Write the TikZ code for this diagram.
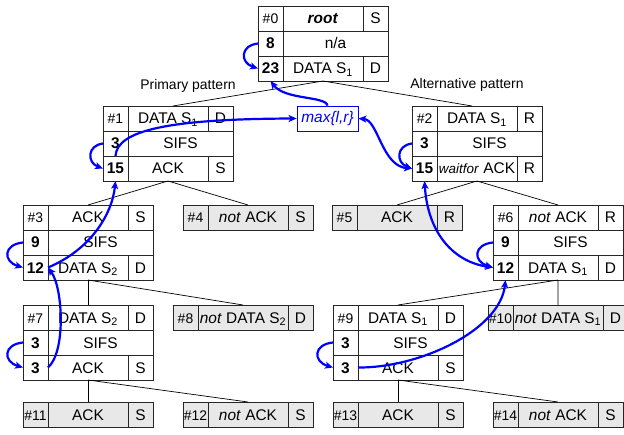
\documentclass[tikz,border=0pt]{standalone}
\usepackage{fontspec}
\setmainfont{Liberation Sans}
\usetikzlibrary{arrows.meta}
\newcommand\myid{\fontsize{14}{16}\selectfont}
\newcommand\mynum{\bfseries}
\newcommand\rowA[7]{%
  \node[sidecell,#7,anchor=north west] (#1a) at (#2) {#3};
  \node[#6,#7,anchor=north west] (#1b) at (#1a.north east) {#4};
  \node[sidecell,#7,anchor=north west] (#1c) at (#1b.north east) {#5};
}
\newcommand\rowB[4]{%
  \node[sidecell,anchor=north west] (#1a) at (#2) {#3};
  \node[spancell,anchor=north west] (#1b) at (#1a.north east) {#4};
}
\tikzset{
  cell/.style={draw=black!85, line width=0.8bp, rectangle, inner sep=0pt, outer sep=0pt,
    minimum height=25bp, font=\fontsize{15.5}{18}\selectfont, text height=12.5bp, text depth=1.5bp},
  sidecell/.style={cell, minimum width=25bp},
  midcell/.style={cell, minimum width=80bp},
  widemidcell/.style={cell, minimum width=90bp},
  spancell/.style={cell, minimum width=105bp},
  grey/.style={fill=black!9},
  plain/.style={},
  tree/.style={draw=black, line width=0.7bp},
  bluetip/.tip={Stealth[length=8bp,width=7bp,inset=2bp]},
  flow/.style={draw=blue, line width=2.2bp, -bluetip},
  flow2/.style={draw=blue, line width=2.2bp, bluetip-bluetip},
  lbl/.style={font=\fontsize{14}{16}\selectfont, inner sep=0pt, anchor=base},
  maxbox/.style={draw=blue, line width=0.8bp, minimum width=61bp, minimum height=25bp,
    inner sep=0pt, fill=white, text=blue, font=\fontsize{15.5}{18}\selectfont\itshape}
}
\begin{document}
\begin{tikzpicture}[x=1bp,y=-1bp]
\useasboundingbox (0,0) rectangle (624,435);
% #0
\rowA{n0-a}{258,6}{\myid\#0}{\textbf{\textit{root}}}{S}{midcell}{plain}
\rowB{n0-b}{n0-aa.south west}{\mynum 8}{n/a}
\rowA{n0-c}{n0-ba.south west}{\mynum 23}{DATA S\textsubscript{1}}{D}{midcell}{plain}
% #1
\rowA{n1-a}{103,106}{\myid\#1}{DATA S\textsubscript{1}}{D}{midcell}{plain}
\rowB{n1-b}{n1-aa.south west}{\mynum 3}{SIFS}
\rowA{n1-c}{n1-ba.south west}{\mynum 15}{ACK}{S}{midcell}{plain}
% #2
\rowA{n2-a}{412,106}{\myid\#2}{DATA S\textsubscript{1}}{R}{midcell}{plain}
\rowB{n2-b}{n2-aa.south west}{\mynum 3}{SIFS}
\rowA{n2-c}{n2-ba.south west}{\mynum 15}{{\fontsize{13.5}{16}\selectfont\textit{waitfor}} ACK}{R}{midcell}{plain}
% #3
\rowA{n3-a}{23,205}{\myid\#3}{ACK}{S}{midcell}{plain}
\rowB{n3-b}{n3-aa.south west}{\mynum 9}{SIFS}
\rowA{n3-c}{n3-ba.south west}{\mynum 12}{DATA S\textsubscript{2}}{D}{midcell}{plain}
% #4, #5
\rowA{n4-a}{183,205}{\myid\#4}{\textit{not} ACK}{S}{midcell}{grey}
\rowA{n5-a}{332,205}{\myid\#5}{ACK}{R}{midcell}{grey}
% #6
\rowA{n6-a}{493,205}{\myid\#6}{\textit{not} ACK}{R}{midcell}{plain}
\rowB{n6-b}{n6-aa.south west}{\mynum 9}{SIFS}
\rowA{n6-c}{n6-ba.south west}{\mynum 12}{DATA S\textsubscript{1}}{D}{midcell}{plain}
% #7
\rowA{n7-a}{23,305}{\myid\#7}{DATA S\textsubscript{2}}{D}{midcell}{plain}
\rowB{n7-b}{n7-aa.south west}{\mynum 3}{SIFS}
\rowA{n7-c}{n7-ba.south west}{\mynum 3}{ACK}{S}{midcell}{plain}
% #8
\rowA{n8-a}{173,305}{\myid\#8}{\textit{not} DATA S\textsubscript{2}}{D}{widemidcell}{grey}
% #9
\rowA{n9-a}{333,305}{\myid\#9}{DATA S\textsubscript{1}}{D}{midcell}{plain}
\rowB{n9-b}{n9-aa.south west}{\mynum 3}{SIFS}
\rowA{n9-c}{n9-ba.south west}{\mynum 3}{ACK}{S}{midcell}{plain}
% #10
\rowA{n10-a}{488,305}{\myid\#10}{\textit{not} DATA S\textsubscript{1}}{D}{widemidcell}{grey}
% leaves
\rowA{n11-a}{23,402}{\myid\#11}{ACK}{S}{midcell}{grey}
\rowA{n12-a}{183,402}{\myid\#12}{\textit{not} ACK}{S}{midcell}{grey}
\rowA{n13-a}{333,402}{\myid\#13}{ACK}{S}{midcell}{grey}
\rowA{n14-a}{493,402}{\myid\#14}{\textit{not} ACK}{S}{midcell}{grey}
% tree lines
\draw[tree] (n0-cb.south) -- ([xshift=5bp]n1-ab.north);
\draw[tree] (n0-cb.south) -- ([xshift=-5bp]n2-ab.north);
\draw[tree] (n1-cb.south) -- (n3-ab.north);
\draw[tree] (n1-cb.south) -- (n4-ab.north);
\draw[tree] (n2-cb.south) -- (n5-ab.north);
\draw[tree] (n2-cb.south) -- (n6-ab.north);
\draw[tree] (n3-cb.south) -- (n7-ab.north);
\draw[tree] (n3-cb.south) -- (n8-ab.north);
\draw[tree] (n6-cb.south) -- (n9-ab.north);
\draw[tree] (n6-cb.south) -- (n10-ab.north);
\draw[tree] (n7-cb.south) -- (n11-ab.north);
\draw[tree] (n7-cb.south) -- (n12-ab.north);
\draw[tree] (n9-cb.south) -- (n13-ab.north);
\draw[tree] (n9-cb.south) -- (n14-ab.north);
% labels
\node[lbl] (primary) at (188,90) {Primary pattern};
\node[lbl] (alt) at (467,89) {Alternative pattern};
\node[maxbox] (mx) at (327.5,118.5) {max\{l,r\}};
% blue flows
\draw[flow] (n0-ba.west) .. controls +(-18,2) and +(-18,-6) .. (n0-ca.west);
\draw[flow] (mx.north) .. controls (326,96) and (285,100) .. (n0-ca.south);
\draw[flow] (n1-ca.north) .. controls (117,130) and (170,119) .. (mx.west);
\draw[flow] (n1-ba.west) .. controls +(-16,2) and +(-16,-6) .. (n1-ca.west);
\draw[flow2] (mx.east) .. controls (378,120) and (382,166) .. (n2-ca.west);
\draw[flow] (n2-ba.west) .. controls +(-16,2) and +(-16,-6) .. (n2-ca.west);
\draw[flow] (n3-ca.east) .. controls (90,250) and (112,215) .. (n1-ca.south);
\draw[flow] (n3-ba.west) .. controls +(-20,2) and +(-20,-6) .. (n3-ca.west);
\draw[flow] (n7-ca.east) .. controls (66,352) and (63,288) .. (n3-ca.east);
\draw[flow] (n7-ba.west) .. controls +(-20,2) and +(-20,-6) .. (n7-ca.west);
\draw[flow2] (n2-ca.south) .. controls (428,235) and (455,262) .. (n6-ca.west);
\draw[flow] (n6-ba.west) .. controls +(-20,2) and +(-20,-6) .. (n6-ca.west);
\draw[flow] (n9-ca.east) .. controls (420,368) and (500,330) .. (n6-ca.south);
\draw[flow] (n9-ba.west) .. controls +(-20,2) and +(-20,-6) .. (n9-ca.west);
\end{tikzpicture}
\end{document}
